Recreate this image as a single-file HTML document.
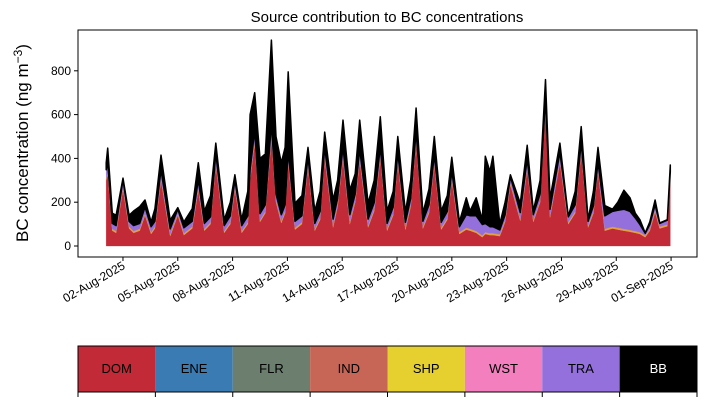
<!DOCTYPE html>
<html><head><meta charset="utf-8"><style>
body{margin:0;background:#fff;}
svg text{font-family:"Liberation Sans","DejaVu Sans",sans-serif;}
</style></head><body>
<svg id="c" width="707" height="402" viewBox="0 0 707 402" xmlns="http://www.w3.org/2000/svg">
<text x="387" y="22" text-anchor="middle" font-size="15">Source contribution to BC concentrations</text>
<text transform="translate(28,143) rotate(-90)" text-anchor="middle" font-size="17">BC concentration (ng m<tspan dy="-6" font-size="12">−3</tspan><tspan dy="6">)</tspan></text>
<g id="plot"></g>
<g id="axes"></g>
<g id="legend"></g>
</svg>
<script>
const hours=[2,4,10,15,24,32,38,46,53,61,66,74,86,96,104,115,123,131,139,146,157,165,171,180,188,191,197,204,211,219,225,232,237,241,250,259,267,276,283,289,300,306,313,322,329,335,346,354,362,371,379,385,395,402,409,418,426,433,442,450,456,466,475,480,488,496,500,506,510,519,526,533,546,555,563,572,579,585,598,609,618,626,635,642,648,657,667,674,682,690,697,703,710,716,723,729,739,743];
const dom=[300,330,70,60,260,80,60,70,140,55,80,300,45,140,50,80,255,70,100,370,60,100,260,60,100,300,470,110,150,490,200,105,150,380,75,100,360,70,120,400,85,180,400,100,200,390,85,160,400,70,140,380,75,180,470,80,150,370,75,120,300,55,75,70,60,40,55,50,50,45,110,280,115,350,110,200,620,130,380,100,150,425,85,150,340,70,80,75,70,65,60,55,40,70,155,80,90,300];
const shp=[8,8,8,8,8,8,8,8,8,8,8,8,8,8,8,8,8,8,8,8,8,8,8,8,8,8,8,8,8,8,8,8,8,8,8,8,8,8,8,8,8,8,8,8,8,8,8,8,8,8,8,8,8,8,8,8,8,8,8,8,8,8,8,8,8,8,8,8,8,8,8,8,8,8,8,8,8,8,8,8,8,8,8,8,8,8,8,8,8,8,8,8,8,8,8,8,8,8];
const tra=[40,45,25,25,35,25,25,25,30,25,25,40,25,20,25,25,40,25,25,45,25,30,35,25,30,40,50,30,30,60,30,30,30,45,30,30,40,25,30,45,30,30,45,35,30,45,30,30,45,25,30,40,25,30,45,25,30,40,25,30,35,25,60,60,70,50,40,30,30,20,25,30,30,40,25,30,50,30,40,25,30,40,20,25,35,60,70,80,90,85,60,35,10,20,25,15,20,30];
const bb=[32,64,47,47,7,27,67,77,32,22,57,67,40,7,27,57,77,57,97,47,27,62,22,27,112,252,172,252,232,382,262,237,262,362,82,92,42,57,92,67,87,82,122,112,92,132,72,102,137,57,72,72,47,82,107,37,72,82,52,72,62,22,77,22,82,22,307,252,322,27,57,7,42,62,17,62,82,47,42,2,62,72,7,67,67,47,10,37,87,62,22,22,2,12,22,2,2,32];
const yTicks=[0,200,400,600,800];
const xTickLabels=["02-Aug-2025","05-Aug-2025","08-Aug-2025","11-Aug-2025","14-Aug-2025","17-Aug-2025","20-Aug-2025","23-Aug-2025","26-Aug-2025","29-Aug-2025","01-Sep-2025"];
const xTickHours=[24,96,168,240,312,384,456,528,600,672,744];
const legendLabels=["DOM","ENE","FLR","IND","SHP","WST","TRA","BB"];
const legendColors=["#c22a38","#3a7bb3","#6c7f6e","#c76656","#e5d02f","#f37fbf","#9370db","#000000"];

const NS="http://www.w3.org/2000/svg";
const xS=h=>104.7+h*18.27/24;
const yS=v=>246-v*0.219;
function mk(tag,attrs,parent){const e=document.createElementNS(NS,tag);for(const k in attrs)e.setAttribute(k,attrs[k]);parent.appendChild(e);return e;}
const plot=document.getElementById('plot'),axes=document.getElementById('axes'),leg=document.getElementById('legend');

const layers=[["dom",dom,"#c22a38"],["shp",shp,"#e5a040"],["tra",tra,"#9370db"],["bb",bb,"#000000"]];
let base=hours.map(()=>0);
layers.forEach(([nm,arr,col])=>{
  const top=base.map((b,i)=>b+arr[i]);
  let d="M"+hours.map((h,i)=>xS(h).toFixed(1)+","+yS(top[i]).toFixed(1)).join("L");
  for(let i=hours.length-1;i>=0;i--)d+="L"+xS(hours[i]).toFixed(1)+","+yS(base[i]).toFixed(1);
  d+="Z";
  const p=mk('path',{d:d,fill:col,stroke:col,'stroke-width':nm==='bb'?1.5:0.3,'stroke-linejoin':'round'},plot);
  
  
  base=top;
});

const frame=mk('rect',{x:78,y:30,width:619,height:227,fill:'none',stroke:'#000','stroke-width':1},axes);


yTicks.forEach(v=>{
  const y=yS(v);
  const t=mk('line',{x1:74,x2:78,y1:y,y2:y,stroke:'#000'},axes);
  
  
  const l=mk('text',{x:71,y:y+4,'text-anchor':'end','font-size':12},axes);
  l.textContent=v;
  
  
});
xTickHours.forEach((h,i)=>{
  const x=xS(h);
  const t=mk('line',{x1:x,x2:x,y1:257,y2:261,stroke:'#000'},axes);
  
  
  const l=mk('text',{transform:`translate(${x+3},${268}) rotate(-30)`,'text-anchor':'end','font-size':12},axes);
  l.textContent=xTickLabels[i];
  
  
});
const cw=619/legendLabels.length;
legendLabels.forEach((lab,i)=>{
  const x=78+i*cw;
  const r=mk('rect',{x:x,y:346,width:cw,height:46,fill:legendColors[i]},leg);
  
  
  const t=mk('text',{x:x+cw/2,y:373,'text-anchor':'middle','font-size':13,fill:lab==='BB'?'#fff':'#000'},leg);
  t.textContent=lab;
  
  
});
for(let i=0;i<=legendLabels.length;i++){
  const x=78+i*cw;
  const t=mk('line',{x1:x,x2:x,y1:392,y2:397,stroke:'#000'},leg);
  
  
}
const lf=mk('rect',{x:78,y:346,width:619,height:46,fill:'none',stroke:'#000','stroke-width':1},leg);


</script>
</body></html>
